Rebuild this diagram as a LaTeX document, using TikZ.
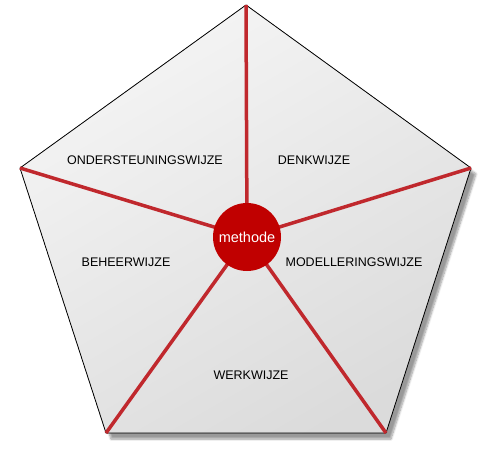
\documentclass[tikz,border=0pt]{standalone}
\usepackage{fontspec}
\setmainfont{Liberation Sans}
\usetikzlibrary{shadows.blur}

\definecolor{methodred}{RGB}{192,0,0}
\definecolor{spokered}{RGB}{192,40,45}

\tikzset{
    aspect/.style={font=\fontsize{12.5}{15}\selectfont, text=black},
    spoke/.style={draw=spokered, line width=3.5pt},
}

\begin{document}
\begin{tikzpicture}[x=1pt, y=-1pt]
    % Define frame
        \useasboundingbox (0,0) rectangle (500,452);
        \coordinate (top) at (246,5);
        \coordinate (right) at (471,168);
        \coordinate (bright) at (386,433);
        \coordinate (bleft) at (106,433);
        \coordinate (left) at (20,168);
        % Draw pentagon
        \filldraw[draw=black, line width=0.8pt, top color=gray!8, bottom color=gray!28, shading angle=30,
            blur shadow={shadow xshift=5pt, shadow yshift=-6pt, shadow blur steps=8, shadow opacity=40}]
            (top) -- (right) -- (bright) -- (bleft) -- (left) -- cycle;
        % Draw spokes
        \node[circle, minimum size=68pt, inner sep=0pt] (m) at (247,237) {};
        \foreach \v in {top, right, bright, bleft, left}
            \draw[spoke] (m.center) -- (\v);
        \node[circle, fill=methodred, minimum size=68pt, inner sep=0pt, text=white,
            font=\fontsize{14.5}{17}\selectfont] at (m) {methode};
        % Draw labels
        \node[aspect] (o) at (145,160) {ONDERSTEUNINGSWIJZE};
        \node[aspect] (d) at (314,160) {DENKWIJZE};
        \node[aspect] (b) at (126,262) {BEHEERWIJZE};
        \node[aspect] (mo) at (354,262) {MODELLERINGSWIJZE};
        \node[aspect] (w) at (251,375) {WERKWIJZE};
    \end{tikzpicture}
\end{document}
